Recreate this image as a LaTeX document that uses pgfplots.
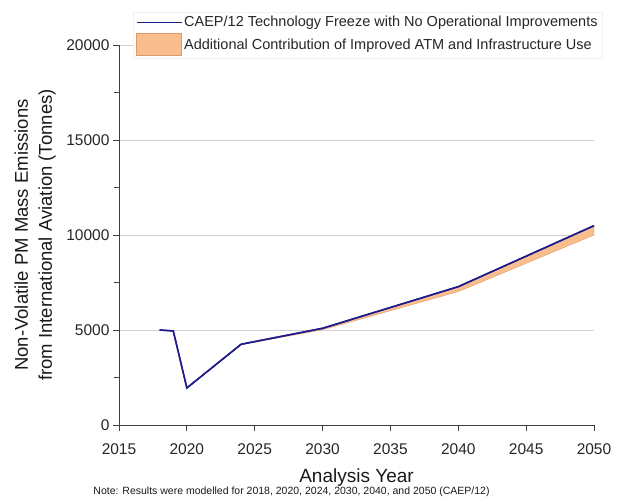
\documentclass[border=0pt]{standalone}
\usepackage{pgfplots}
\pgfplotsset{compat=1.18}
\usepgfplotslibrary{fillbetween}
\usepackage{fontspec}
\setmainfont{Liberation Sans}
\definecolor{lineblue}{HTML}{1E1B8C}
\definecolor{bandfill}{HTML}{F9BE8E}
\definecolor{banddraw}{HTML}{E09A68}
\begin{document}
\begin{tikzpicture}
\begin{axis}[
  scale only axis,
  width=475pt, height=380pt,
  at={(0pt,0pt)}, anchor=south west,
  xmin=2015, xmax=2050, ymin=0, ymax=20000,
  xtick={2015,2020,...,2050},
  ytick={0,5000,...,20000},
  minor ytick={2500,7500,12500,17500},
  scaled ticks=false,
  axis x line*=bottom, axis y line*=left,
  axis line style={black!75, line width=0.8pt},
  tick align=outside,
  major tick length=6pt, minor tick length=5pt,
  tick style={black!75, line width=0.8pt},
  ymajorgrids, grid style={black!18, line width=0.7pt},
  /pgf/number format/set thousands separator={},
  /pgf/number format/assume math mode=true,
  ticklabel style={font=\fontsize{15.5}{17}\selectfont, text=black!85},
  xticklabel style={anchor=base, yshift=-24pt},
  xlabel={Analysis Year},
  xlabel style={font=\fontsize{19}{22}\selectfont, at={(axis description cs:0.5,-0.1526)}, anchor=base, text=black!90},
  ylabel={Non-Volatile PM Mass Emissions\\from International Aviation (Tonnes)},
  ylabel style={font=\fontsize{18.5}{24}\selectfont, align=center, at={(axis description cs:-0.1326,0.5)}, anchor=south, inner sep=0pt, text=black!90},
  legend style={draw=black!6, fill=white, at={(rel axis cs:0.029,1.087)}, anchor=north west,
    font=\fontsize{14.5}{16}\selectfont, row sep=3pt, inner xsep=3pt, inner ysep=2pt, cells={anchor=west}, text=black!85},
  legend cell align=left,
  clip=false,
]
\addplot[name path=top, lineblue, line width=1.5pt,
  legend image code/.code={\draw[lineblue, line width=1.2pt] (0pt,0pt) -- (45pt,0pt);}] coordinates {
  (2018,5000) (2019,4950) (2020,1950) (2024,4250) (2030,5090) (2040,7280) (2050,10490)};
\addlegendentry{CAEP/12 Technology Freeze with No Operational Improvements}
\addplot[name path=bot, draw=none, forget plot] coordinates {
  (2018,5000) (2019,4950) (2020,1950) (2024,4220) (2030,5010) (2040,7020) (2050,10000)};
\addplot[fill=bandfill, draw=banddraw, line width=0.4pt,
  legend image code/.code={\draw[fill=bandfill, draw=banddraw, line width=0.8pt] (0pt,-11pt) rectangle (45pt,11pt);}] fill between[of=top and bot];
\addlegendentry{Additional Contribution of Improved ATM and Infrastructure Use}
\addplot[lineblue, line width=1.5pt, forget plot] coordinates {
  (2018,5000) (2019,4950) (2020,1950) (2024,4250) (2030,5090) (2040,7280) (2050,10490)};
\node[anchor=base, font=\fontsize{10.5}{12}\selectfont, text=black!90] at (axis description cs:0.3632,-0.1816) {Note: Results were modelled for 2018, 2020, 2024, 2030, 2040, and 2050 (CAEP/12)};
\end{axis}
\pgfresetboundingbox
\path (-119pt,-75pt) rectangle (502pt,425pt);
\end{tikzpicture}
\end{document}
